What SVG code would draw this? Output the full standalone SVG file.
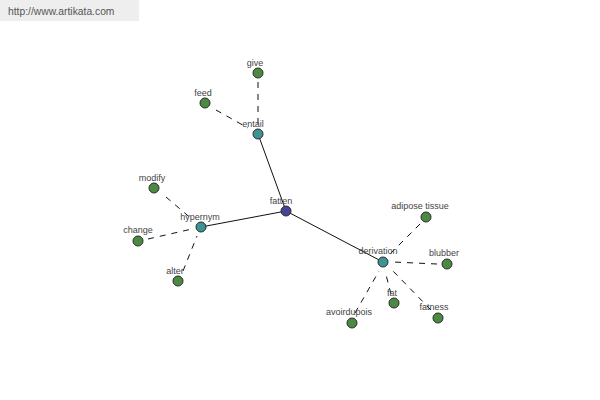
<svg xmlns="http://www.w3.org/2000/svg" width="600" height="400" viewBox="0 0 600 400">
<style>
.lbl{font-family:"Liberation Sans",Arial,sans-serif;font-size:9px;fill:#444;text-anchor:middle}
.n{stroke:#2a2a2a;stroke-width:1}
.leaf{fill:#4c8a44}
.mid{fill:#3e9494}
.root{fill:#454595}
.d{stroke:#111;stroke-width:1;stroke-dasharray:6 6;fill:none}
.s{stroke:#111;stroke-width:1;fill:none}
</style>
<rect width="600" height="400" fill="#fff"/>
<rect x="0" y="0" width="139" height="21" fill="#eeeeee"/>
<text x="8" y="15" style="font-family:'Liberation Sans',Arial,sans-serif;font-size:10.3px;fill:#555">http://www.artikata.com</text>
<g id="connectors">
<line class="s" x1="286" y1="211" x2="258" y2="134"/>
<line class="s" x1="286" y1="211" x2="201" y2="227"/>
<line class="s" x1="286" y1="211" x2="383" y2="262"/>
<line class="d" x1="258" y1="82" x2="258" y2="126"/>
<line class="d" x1="216" y1="110" x2="248" y2="128"/>
<line class="d" x1="166" y1="197" x2="193" y2="220"/>
<line class="d" x1="148" y1="239" x2="192" y2="229"/>
<line class="d" x1="183" y1="271" x2="197" y2="236"/>
<line class="d" x1="420" y1="224" x2="389" y2="255"/>
<line class="d" x1="437" y1="264" x2="393" y2="262"/>
<line class="d" x1="391" y1="294" x2="385" y2="271"/>
<line class="d" x1="431" y1="310" x2="391" y2="269"/>
<line class="d" x1="355" y1="313" x2="379" y2="271"/>
</g>
<g id="give"><circle class="n leaf" cx="258" cy="73" r="5"/><text class="lbl" x="255" y="66">give</text></g>
<g id="feed"><circle class="n leaf" cx="205" cy="103" r="5"/><text class="lbl" x="203" y="96">feed</text></g>
<g id="entail"><circle class="n mid" cx="258" cy="134" r="5"/><text class="lbl" x="253" y="127">entail</text></g>
<g id="fatten"><circle class="n root" cx="286" cy="211" r="5"/><text class="lbl" x="281" y="204">fatten</text></g>
<g id="modify"><circle class="n leaf" cx="154" cy="188" r="5"/><text class="lbl" x="152" y="181">modify</text></g>
<g id="hypernym"><circle class="n mid" cx="201" cy="227" r="5"/><text class="lbl" x="200" y="220">hypernym</text></g>
<g id="change"><circle class="n leaf" cx="138" cy="241" r="5"/><text class="lbl" x="138" y="233">change</text></g>
<g id="alter"><circle class="n leaf" cx="178" cy="281" r="5"/><text class="lbl" x="175" y="274">alter</text></g>
<g id="derivation"><circle class="n mid" cx="383" cy="262" r="5"/><text class="lbl" x="378" y="254">derivation</text></g>
<g id="adipose_tissue"><circle class="n leaf" cx="426" cy="217" r="5"/><text class="lbl" x="420" y="209">adipose tissue</text></g>
<g id="blubber"><circle class="n leaf" cx="447" cy="264" r="5"/><text class="lbl" x="444" y="256">blubber</text></g>
<g id="fat"><circle class="n leaf" cx="394" cy="303" r="5"/><text class="lbl" x="392" y="296">fat</text></g>
<g id="fatness"><circle class="n leaf" cx="438" cy="318" r="5"/><text class="lbl" x="434" y="310">fatness</text></g>
<g id="avoirdupois"><circle class="n leaf" cx="352" cy="323" r="5"/><text class="lbl" x="349" y="315">avoirdupois</text></g>
</svg>
